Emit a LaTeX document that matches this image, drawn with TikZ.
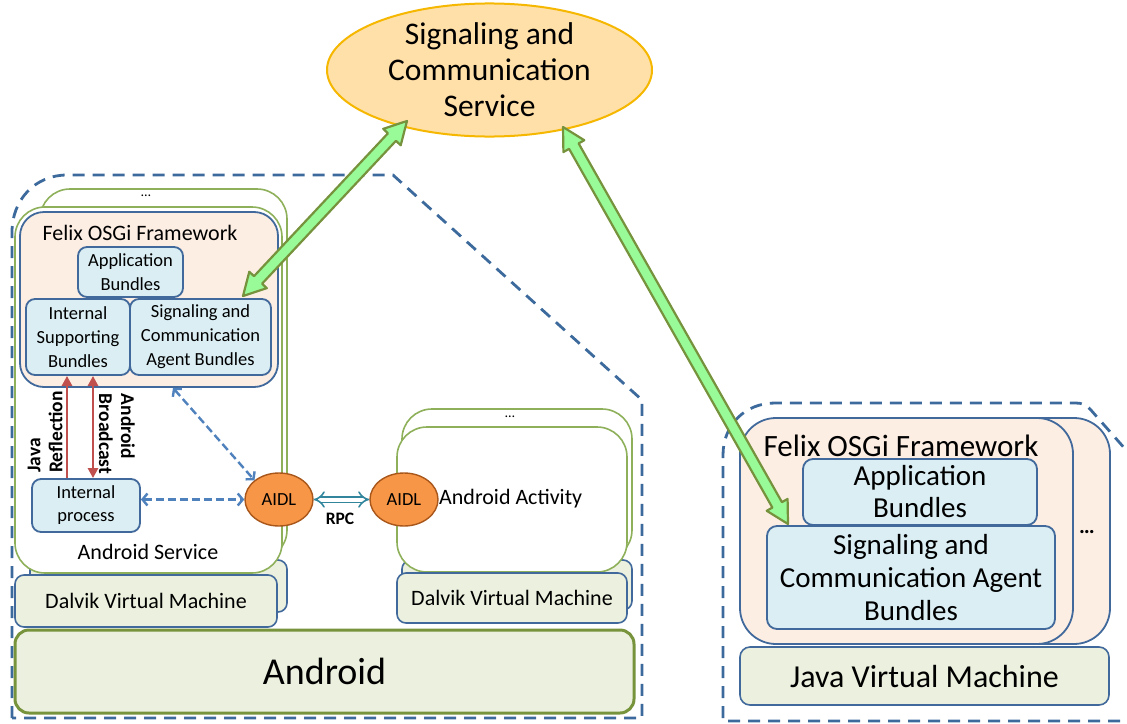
\documentclass[tikz,border=0pt]{standalone}
\usepackage{fontspec}
\setmainfont{Carlito}
\usetikzlibrary{arrows.meta,calc,shapes.geometric}
\definecolor{dashblue}{HTML}{3D6A9C}
\definecolor{boxblue}{HTML}{41699B}
\definecolor{ltblue}{HTML}{DAEEF3}
\definecolor{peach}{HTML}{FDEEE4}
\definecolor{svcgreen}{HTML}{8EB05A}
\definecolor{andgreen}{HTML}{77933C}
\definecolor{vmfill}{HTML}{EBF1DE}
\definecolor{ellfill}{HTML}{FFE0A8}
\definecolor{elldraw}{HTML}{F6B700}
\definecolor{aidlfill}{HTML}{F79646}
\definecolor{aidldraw}{HTML}{A8561A}
\definecolor{redarr}{HTML}{C0504D}
\definecolor{dblue}{HTML}{4F81BD}
\definecolor{rpccol}{HTML}{31859C}
\definecolor{garfill}{HTML}{98FB98}
\definecolor{gardraw}{HTML}{76923C}
\newcommand{\fsz}[2]{\fontsize{#1}{#2}\selectfont}
\newcommand{\blockarr}[2]{%
  \filldraw[garrow] (#1) -- ($(#1)!22pt!(#2)!12pt!90:(#2)$) -- ($(#1)!22pt!(#2)!5.5pt!90:(#2)$)
   -- ($(#2)!22pt!(#1)!5.5pt!-90:(#1)$) -- ($(#2)!22pt!(#1)!12pt!-90:(#1)$) -- (#2)
   -- ($(#2)!22pt!(#1)!12pt!90:(#1)$) -- ($(#2)!22pt!(#1)!5.5pt!90:(#1)$)
   -- ($(#1)!22pt!(#2)!5.5pt!-90:(#2)$) -- ($(#1)!22pt!(#2)!12pt!-90:(#2)$) -- cycle;}
\begin{document}
\begin{tikzpicture}[x=1pt,y=-1pt,
  every node/.style={inner sep=0pt, align=center},
  dashout/.style={draw=dashblue, line width=2.8pt, dash pattern=on 12pt off 8pt},
  svcbox/.style={draw=svcgreen, fill=white, line width=1.6pt, rounded corners=30pt},
  felixbox/.style={draw=boxblue, fill=peach, line width=1.8pt, rounded corners=24pt},
  bundle/.style={draw=boxblue, fill=ltblue, line width=1.8pt, rounded corners=9pt},
  vmbox/.style={draw=boxblue, fill=vmfill, line width=1.6pt, rounded corners=9pt},
  aidl/.style={ellipse, draw=aidldraw, fill=aidlfill, line width=1.4pt, minimum width=68pt, minimum height=53pt, font=\fsz{18.5}{22}},
  redline/.style={draw=redarr, line width=2.6pt},
  bluedash/.style={draw=dblue, line width=2.4pt, dash pattern=on 8pt off 4pt, {Straight Barb[length=5pt,width=12pt]}-{Straight Barb[length=5pt,width=12pt]}},
  rpc/.style={draw=rpccol, line width=1.6pt, double=white, double distance=4pt, {Implies}-{Implies}},
  garrow/.style={draw=gardraw, fill=garfill, line width=2.2pt, line join=round},
  vlabel/.style={font=\bfseries\fsz{19.5}{22}, align=left}
]
\useasboundingbox (0,0) rectangle (1127,723);
\clip (0,0) rectangle (1127,723);

% dashed outlines
\draw[dashout] (12,718) -- (12,232) .. controls (12,200) and (35,175) .. (67,175) -- (393,175) -- (642,400) -- (642,718) -- cycle;
\draw[dashout] (1140,721) -- (723,721) -- (723,455) .. controls (723,425) and (745,403) .. (775,403) -- (1076,403) .. controls (1082,403) and (1086,405) .. (1090,409) -- (1170,500);

% top service
\node[ellipse, draw=elldraw, fill=ellfill, line width=2pt, minimum width=325pt, minimum height=127pt, font=\fsz{31.5}{36}] (scs) at (489.5,70) {Signaling and\\Communication\\Service};

% Android service stack
\node[svcbox, minimum width=247pt, minimum height=371pt] (svcback) at (163.5,374.5) {};
\node[vmbox, minimum width=257pt, minimum height=52pt] (dalLback) at (158.5,586) {};
\node[svcbox, minimum width=267pt, minimum height=366pt] (svc) at (148.5,390) {};
\node[font=\fsz{14}{16}] (dotsL) at (146,196) {…};
\node[vmbox, minimum width=262pt, minimum height=52pt, font=\fsz{22}{24}] (dalL) at (146,601) {Dalvik Virtual Machine};
\node[font=\fsz{22}{24}] (svclabel) at (148,552) {Android Service};

% Felix (left)
\node[felixbox, minimum width=258pt, minimum height=175pt] (felixL) at (149,299.5) {};
\node[font=\fsz{22}{24}] (felixLt) at (140,233) {Felix OSGi Framework};
\node[bundle, minimum width=105pt, minimum height=50pt, font=\fsz{18.5}{24}] (appL) at (130.5,272) {Application\\Bundles};
\node[bundle, minimum width=104pt, minimum height=76pt, font=\fsz{18.5}{24}] (intL) at (78,337) {Internal\\Supporting\\Bundles};
\node[bundle, minimum width=141pt, minimum height=76pt, font=\fsz{18.5}{24}] (sigL) at (200.5,337) {Signaling and\\Communication\\Agent Bundles};
\node[bundle, minimum width=108pt, minimum height=53pt, font=\fsz{18.5}{23}] (intproc) at (86,505.5) {Internal\\process};

% Android Activity stack
\node[svcbox, minimum width=230pt, minimum height=151pt] (actback) at (517,484.5) {};
\node[vmbox, minimum width=230pt, minimum height=50pt] (dalRback) at (517,585) {};
\node[svcbox, minimum width=230pt, minimum height=145pt] (act) at (512,499.5) {};
\node[font=\fsz{14}{16}] (dotsA) at (510,417) {…};
\node[vmbox, minimum width=230pt, minimum height=50pt, font=\fsz{22}{24}] (dalR) at (512,598) {Dalvik Virtual Machine};
\node[font=\fsz{22}{24}, anchor=west] (actlabel) at (439,499) {Android Activity};

% Android
\node[draw=andgreen, fill=vmfill, line width=3pt, rounded corners=14pt, minimum width=619pt, minimum height=83pt, font=\fsz{38}{40}] (android) at (324.5,671.5) {Android};

% AIDL
\node[aidl] (aidlL) at (279,499.5) {AIDL};
\node[aidl] (aidlR) at (404,499.5) {AIDL};
\draw[rpc] (aidlL.east) -- (aidlR.west);
\node[font=\bfseries\fsz{17.5}{20}] (rpclabel) at (340,519) {RPC};

% red arrows
\coordinate (jx) at (67,0);
\coordinate (bx) at (93,0);
\draw[redline, -{Triangle[length=10pt,width=10pt]}] (intproc.north -| jx) -- (intL.south -| jx);
\draw[redline, {Triangle[length=10pt,width=10pt]}-{Triangle[length=10pt,width=10pt]}] (intL.south -| bx) -- (intproc.north -| bx);
\node[vlabel, rotate=90] (javalbl) at (45,432) {Java\\Reflection};
\node[vlabel, rotate=-90] (bcastlbl) at (117,434) {Android\\Broadcast};

% blue dashed arrows
\coordinate (fx) at (173,0);
\draw[bluedash] (felixL.south -| fx) -- (aidlL.north west);
\draw[bluedash] (intproc.east |- aidlL.west) -- (aidlL.west);

% right side
\node[felixbox, rounded corners=36pt, minimum width=330pt, minimum height=226pt] (felixRback) at (945,531) {};
\node[felixbox, rounded corners=36pt, minimum width=333pt, minimum height=226pt] (felixR) at (906.5,531) {};
\node[font=\fsz{31}{34}] (felixRt) at (901,446) {Felix OSGi Framework};
\node[bundle, rounded corners=10pt, minimum width=234pt, minimum height=66pt, font=\fsz{29}{32}] (appR) at (920,492) {Application\\Bundles};
\node[bundle, rounded corners=10pt, minimum width=288pt, minimum height=103pt, font=\fsz{29}{33}] (sigR) at (911,577.5) {Signaling and\\Communication Agent\\Bundles};
\node[font=\bfseries\fsz{22}{24}] (dotsR) at (1087,532) {…};
\node[vmbox, rounded corners=10pt, minimum width=369pt, minimum height=58pt, font=\fsz{32}{34}] (jvm) at (924.5,676) {Java Virtual Machine};

% green block arrows
\coordinate (g1a) at (407,121);
\coordinate (g1b) at (243,296);
\coordinate (g2a) at (563,127);
\coordinate (g2b) at (788,524);
\blockarr{g1a}{g1b}
\blockarr{g2a}{g2b}
\end{tikzpicture}
\end{document}
